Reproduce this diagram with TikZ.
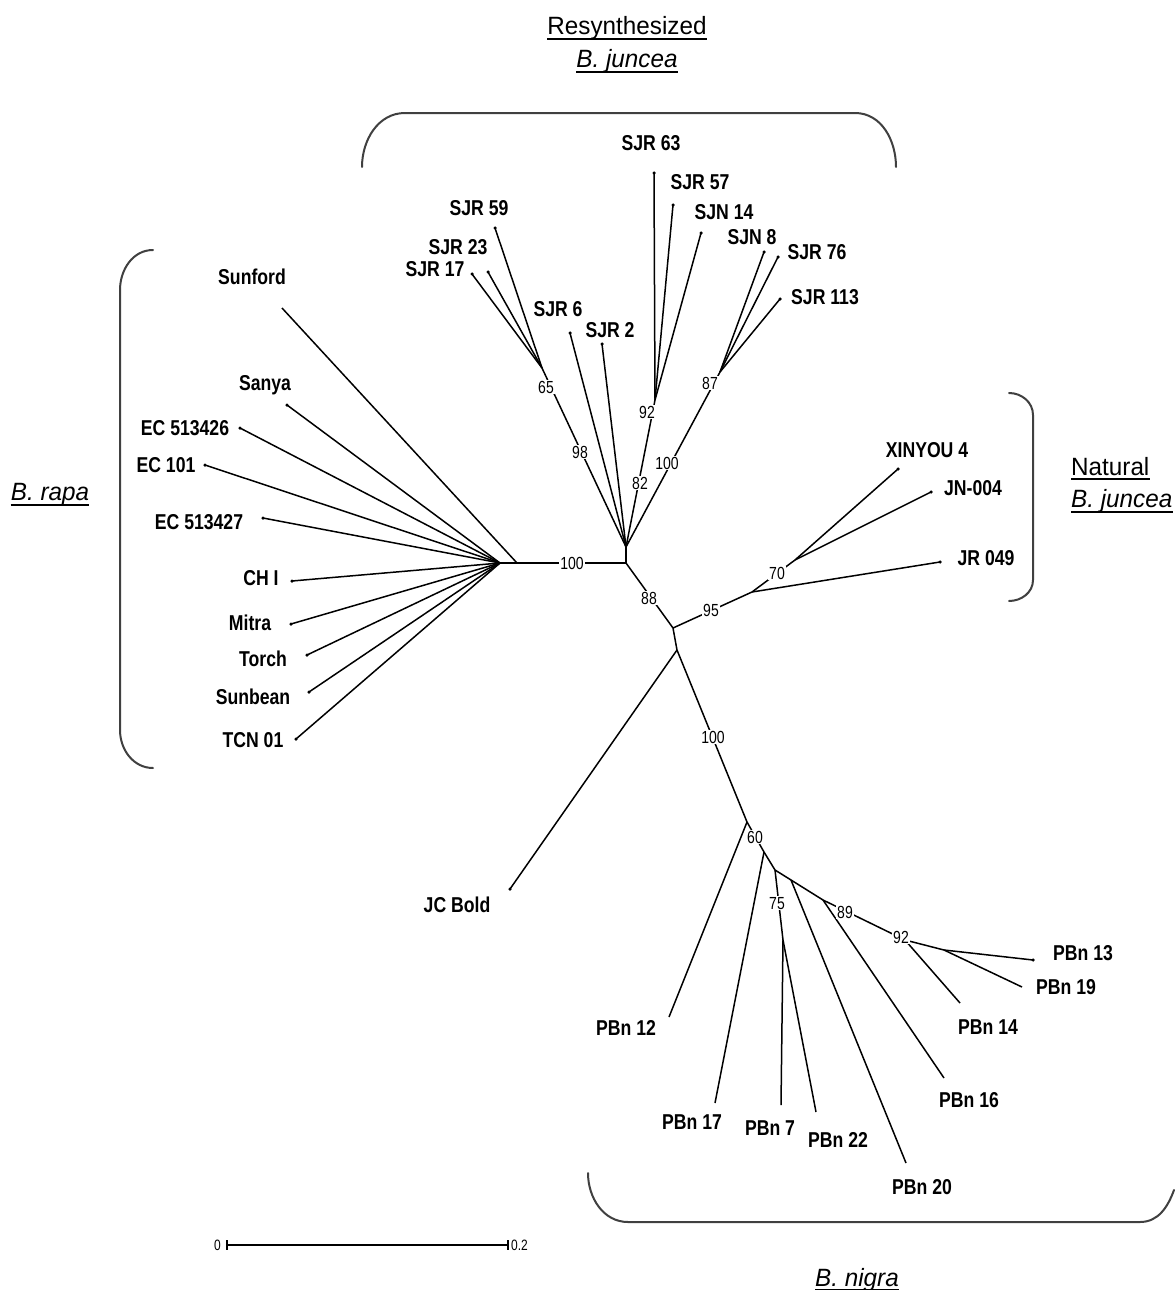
\documentclass[tikz,border=0pt]{standalone}
\usepackage{fontspec}
\setmainfont{Liberation Sans}
\newfontfamily\tipfnt[FakeStretch=0.82]{Liberation Sans}
\newfontfamily\bootfnt[FakeStretch=0.8]{Liberation Sans}
\newfontfamily\ttlfnt[FakeStretch=0.97]{Liberation Sans}
\tikzset{
  tiplbl/.style={font=\tipfnt\bfseries\fontsize{21.5}{24}\selectfont, inner sep=0pt, text height=15.5pt, text depth=0pt},
  boot/.style={font=\bootfnt\fontsize{17.5}{20}\selectfont, fill=white, inner sep=1pt, text height=12.5pt, text depth=0pt},
  ttl/.style={font=\ttlfnt\fontsize{25}{28}\selectfont, inner sep=0pt, text height=18pt, text depth=0pt},
  branch/.style={line width=1.5pt, black},
  brk/.style={line width=2pt, black!75, line cap=round},
  uline/.style={line width=2pt, black},
  tipdot/.style={fill=black, circle, inner sep=0pt, minimum size=3.5pt},
  scl/.style={font=\bootfnt\fontsize{15}{17}\selectfont, inner sep=1pt, text height=11pt, text depth=0pt}
}
\begin{document}
\begin{tikzpicture}[x=1pt,y=-1pt]
\fill[white] (0,0) rectangle (1175,1290);
\useasboundingbox (0,0) rectangle (1175,1290);

% ---------- internal points ----------
\coordinate (R) at (626,563);
\coordinate (H) at (626,547);
\coordinate (Bh) at (500,563);
\coordinate (Bs) at (517,563);
\coordinate (N65) at (542,368);
\coordinate (N92) at (655,400);
\coordinate (N87) at (720,372);
\coordinate (J) at (673,628);
\coordinate (K) at (677,650);
\coordinate (N95) at (752,592);
\coordinate (N70) at (795,560);
\coordinate (N60) at (747,822);
\coordinate (N61) at (764,852);
\coordinate (M) at (775,870);
\coordinate (N75) at (783,940);
\coordinate (Q1) at (791,880);
\coordinate (Q2) at (823,900);
\coordinate (N92n) at (905,940);
\coordinate (Q4) at (944,950);

% ---------- tips ----------
\coordinate (sjr63) at (654,173);
\coordinate (sjr57) at (673,205);
\coordinate (sjn14) at (701,233);
\coordinate (sjn8) at (764,252);
\coordinate (sjr76) at (778,257);
\coordinate (sjr113) at (780,299);
\coordinate (sjr59) at (495,228);
\coordinate (sjr23) at (488,272);
\coordinate (sjr17) at (472,274);
\coordinate (sjr6) at (570,333);
\coordinate (sjr2) at (602,344);
\coordinate (sunford) at (282,308);
\coordinate (sanya) at (287,405);
\coordinate (ec426) at (240,428);
\coordinate (ec101) at (205,465);
\coordinate (ec427) at (263,518);
\coordinate (chi) at (292,581);
\coordinate (mitra) at (291,624);
\coordinate (torch) at (307,655);
\coordinate (sunbean) at (309,692);
\coordinate (tcn) at (296,739);
\coordinate (xin) at (898,469);
\coordinate (jn) at (931,492);
\coordinate (jr) at (940,562);
\coordinate (jcb) at (510,889);
\coordinate (p12) at (669,1017);
\coordinate (p17) at (715,1103);
\coordinate (p7) at (781,1105);
\coordinate (p22) at (816,1112);
\coordinate (p20) at (906,1163);
\coordinate (p16) at (944,1078);
\coordinate (p14) at (960,1003);
\coordinate (p19) at (1022,987);
\coordinate (p13) at (1033,960);

% ---------- branches ----------
\begin{scope}[branch]
% backbone
\draw (Bh) -- (R) -- (H);
\draw (R) -- (J) -- (K) -- (N60) -- (N61) -- (M) -- (Q1) -- (Q2) -- (N92n) -- (Q4) -- (p13);
% resynthesized juncea
\draw (H) -- (N65);
\draw (N65) -- (sjr17); \draw (N65) -- (sjr23); \draw (N65) -- (sjr59);
\draw (H) -- (sjr6); \draw (H) -- (sjr2);
\draw (H) -- (N92);
\draw (N92) -- (sjr63); \draw (N92) -- (sjr57); \draw (N92) -- (sjn14);
\draw (H) -- (N87);
\draw (N87) -- (sjn8); \draw (N87) -- (sjr76); \draw (N87) -- (sjr113);
% rapa
\draw (Bs) -- (sunford);
\foreach \t in {sanya,ec426,ec101,ec427,chi,mitra,torch,sunbean,tcn} \draw (Bh) -- (\t);
% natural juncea
\draw (J) -- (N95) -- (N70);
\draw (N95) -- (jr);
\draw (N70) -- (xin); \draw (N70) -- (jn);
% JC Bold
\draw (K) -- (jcb);
% nigra
\draw (N60) -- (p12);
\draw (N61) -- (p17);
\draw (M) -- (N75);
\draw (N75) -- (p7); \draw (N75) -- (p22);
\draw (Q1) -- (p20);
\draw (Q2) -- (p16);
\draw (N92n) -- (p14);
\draw (Q4) -- (p19);
\end{scope}

% tip dots
\foreach \t in {sjr63,sjr57,sjn14,sjn8,sjr76,sjr113,sjr59,sjr23,sjr17,sjr6,sjr2,sanya,ec426,ec101,ec427,chi,mitra,torch,sunbean,tcn,xin,jn,jr,jcb,p13}
  \node[tipdot] at (\t) {};

% ---------- bootstrap values ----------
\node[boot] (b65) at (546,387) {65};
\node[boot] (b98) at (580,452) {98};
\node[boot] (b92) at (647,412) {92};
\node[boot] (b82) at (640,483) {82};
\node[boot] (b87) at (710,383) {87};
\node[boot] (b100a) at (667,463) {100};
\node[boot] (b100b) at (572,563) {100};
\node[boot] (b88) at (649,598) {88};
\node[boot] (b95) at (711,610) {95};
\node[boot] (b70) at (777,573) {70};
\node[boot] (b100c) at (713,737) {100};
\node[boot] (b60) at (755,837) {60};
\node[boot] (b75) at (777,903) {75};
\node[boot] (b89) at (845,912) {89};
\node[boot] (b92n) at (901,937) {92};

% ---------- tip labels ----------
\node[tiplbl] (lsjr63) at (651,143) {SJR 63};
\node[tiplbl] (lsjr57) at (700,182) {SJR 57};
\node[tiplbl] (lsjn14) at (724,212) {SJN 14};
\node[tiplbl] (lsjn8) at (752,237) {SJN 8};
\node[tiplbl] (lsjr76) at (817,252) {SJR 76};
\node[tiplbl] (lsjr113) at (825,297) {SJR 113};
\node[tiplbl] (lsjr59) at (479,208) {SJR 59};
\node[tiplbl] (lsjr23) at (458,247) {SJR 23};
\node[tiplbl] (lsjr17) at (435,269) {SJR 17};
\node[tiplbl] (lsjr6) at (558,309) {SJR 6};
\node[tiplbl] (lsjr2) at (610,330) {SJR 2};
\node[tiplbl] (lsunford) at (252,277) {Sunford};
\node[tiplbl] (lsanya) at (265,383) {Sanya};
\node[tiplbl] (lec426) at (185,428) {EC 513426};
\node[tiplbl] (lec101) at (166,465) {EC 101};
\node[tiplbl] (lec427) at (199,522) {EC 513427};
\node[tiplbl] (lchi) at (261,578) {CH I};
\node[tiplbl] (lmitra) at (250,623) {Mitra};
\node[tiplbl] (ltorch) at (263,659) {Torch};
\node[tiplbl] (lsunbean) at (253,697) {Sunbean};
\node[tiplbl] (ltcn) at (253,740) {TCN 01};
\node[tiplbl] (lxin) at (927,450) {XINYOU 4};
\node[tiplbl] (ljn) at (973,488) {JN-004};
\node[tiplbl] (ljr) at (986,558) {JR 049};
\node[tiplbl] (ljcb) at (457,905) {JC Bold};
\node[tiplbl] (lp12) at (626,1028) {PBn 12};
\node[tiplbl] (lp17) at (692,1122) {PBn 17};
\node[tiplbl] (lp7) at (770,1128) {PBn 7};
\node[tiplbl] (lp22) at (838,1140) {PBn 22};
\node[tiplbl] (lp20) at (922,1187) {PBn 20};
\node[tiplbl] (lp16) at (969,1100) {PBn 16};
\node[tiplbl] (lp14) at (988,1027) {PBn 14};
\node[tiplbl] (lp19) at (1066,987) {PBn 19};
\node[tiplbl] (lp13) at (1083,953) {PBn 13};

% ---------- group titles ----------
\node[ttl] (tres) at (627,26) {Resynthesized};
\node[ttl] (tbj1) at (627,58.5) {\itshape B. juncea};
\node[ttl, anchor=west] (tnat) at (1071,466) {Natural};
\node[ttl, anchor=west] (tbj2) at (1071,498.5) {\itshape B. juncea};
\node[ttl] (trapa) at (50,491.5) {\itshape B. rapa};
\node[ttl] (tnigra) at (857,1277) {\itshape B. nigra};
\foreach \n in {tres,tbj1,tnat,tbj2,trapa,tnigra}
  \draw[uline] ([yshift=-4pt]\n.south west) -- ([yshift=-4pt]\n.south east);

% ---------- brackets ----------
\draw[brk] (362,167) to[out=90,in=180] (405,113) -- (855,113) to[out=0,in=90] (896,167);
\draw[brk] (153,250) to[out=180,in=90] (120,290) -- (120,730) to[out=-90,in=180] (153,768);
\draw[brk] (1009,393) to[out=0,in=90] (1033,415) -- (1033,580) to[out=-90,in=0] (1009,601);
\draw[brk] (588,1173) to[out=-90,in=180] (628,1222) -- (1140,1222) to[out=0,in=-110] (1174,1190);

% ---------- scale bar ----------
\coordinate (s0) at (227,1245);
\coordinate (s1) at (508,1245);
\draw[line width=1.5pt] (s0) -- (s1);
\draw[line width=1.3pt] ([yshift=5pt]s0) -- ([yshift=-5pt]s0);
\draw[line width=1.3pt] ([yshift=5pt]s1) -- ([yshift=-5pt]s1);
\node[scl, anchor=east] (sl0) at (222,1245) {0};
\node[scl, anchor=west] (sl1) at (510,1245) {0.2};
\end{tikzpicture}
\end{document}
